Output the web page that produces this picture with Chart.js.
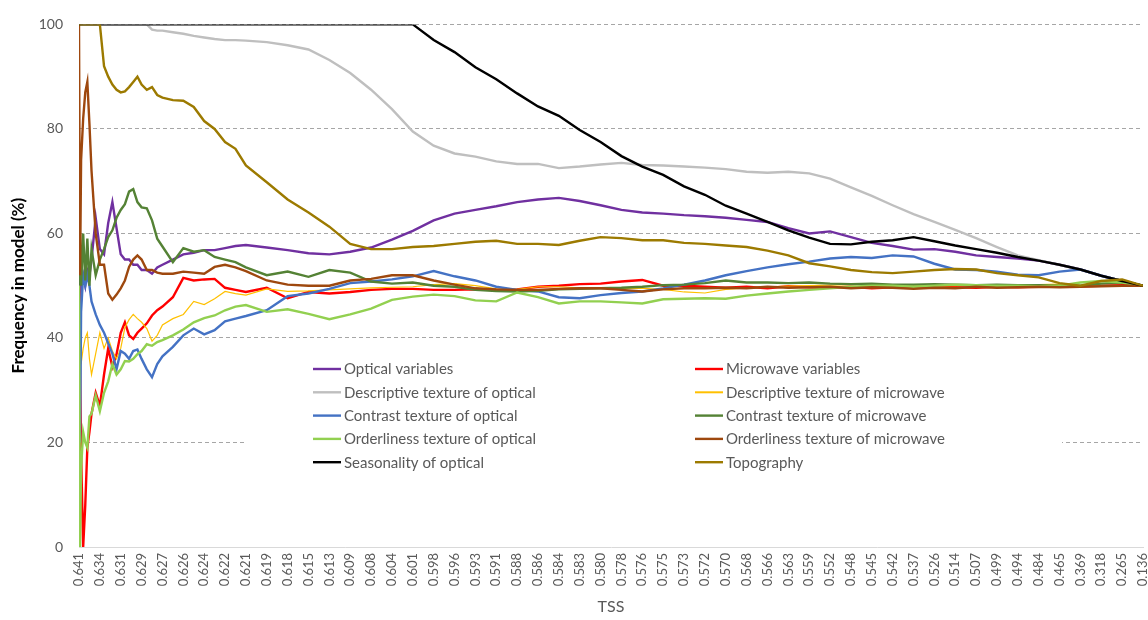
<!DOCTYPE html>
<html><head><meta charset="utf-8">
<script src="https://cdn.jsdelivr.net/npm/chart.js@4.4.0/dist/chart.umd.min.js"></script>
<style>html,body{margin:0;padding:0;background:#fff;}#wrap{width:1148px;height:620px;}</style>
</head><body><div id="wrap"><canvas id="c" width="1148" height="620"></canvas></div>
<script>
// TSS tick labels (one every rank step)
const tssLabels = ["0.641","0.634","0.631","0.629","0.627","0.626","0.624","0.622","0.621","0.619","0.618","0.615","0.613","0.609","0.608","0.604","0.601","0.598","0.596","0.593","0.591","0.588","0.586","0.584","0.583","0.580","0.578","0.576","0.575","0.573","0.572","0.570","0.568","0.566","0.563","0.559","0.552","0.548","0.545","0.542","0.537","0.526","0.514","0.507","0.499","0.494","0.484","0.465","0.369","0.318","0.265","0.136"];

// model rank positions (in tick units) at which values were read
const rankPos = [0,0.05,0.1,0.2,0.3,0.4,0.5,0.6,0.8,1,1.2,1.4,1.6,1.8,2,2.2,2.4,2.6,2.8,3,3.25,3.5,3.75,4,4.5,5,5.5,6,6.5,7,7.5,8,
 9,10,11,12,13,14,15,16,17,18,19,20,21,22,23,24,25,26,27,28,29,30,31,32,33,34,35,36,37,38,39,40,41,42,43,44,45,46,47,48,49,50,51];

const seriesNames = ["Optical variables","Microwave variables","Descriptive texture of optical","Descriptive texture of microwave","Contrast texture of optical","Contrast texture of microwave","Orderliness texture of optical","Orderliness texture of microwave","Seasonality of optical","Topography"];

const opticalVariables = [50,38,50,52,50,53,52,55,63,57,56,62,66,61,56,55,55,54,54,53,53,52.3,53.5,54,55,56,56.3,56.8,56.8,57.2,57.6,57.8,
 57.3,56.8,56.2,56,56.5,57.3,58.8,60.5,62.5,63.8,64.5,65.2,66,66.5,66.8,66.2,65.4,64.5,64,63.8,63.5,63.3,63,62.6,62.2,61,60,60.4,59.3,58.2,57.6,56.9,57,56.5,55.8,55.5,55.2,54.8,54,53.1,51.9,50.9,50];
const microwaveVariables = [50,35,18,0,8,19,22,25.5,29.5,27,33,38,34.5,36.9,41,43,40.5,39.8,41,41.8,42.8,44.3,45.3,46,47.8,51.5,51,51.2,51.3,49.6,49.2,48.8,
 49.6,47.6,48.8,48.5,48.8,49.2,49.4,49.4,49.2,49.2,49.3,49.2,49.3,49.8,50,50.3,50.4,50.8,51.1,50,50,49.8,49.6,49.8,49.5,49.9,49.7,49.6,49.8,49.5,49.7,49.6,49.8,49.7,49.6,49.8,49.7,49.8,49.9,49.9,50,50.1,50];
const descTextureOptical = [100,100,100,100,100,100,100,100,100,100,100,100,100,100,100,100,100,100,100,100,100,99,98.8,98.8,98.5,98.2,97.8,97.5,97.2,97,97,96.9,
 96.6,96,95.2,93.2,90.7,87.5,83.8,79.5,76.8,75.3,74.7,73.8,73.3,73.3,72.5,72.8,73.2,73.5,73.1,73,72.8,72.6,72.3,71.8,71.6,71.8,71.5,70.5,68.8,67.2,65.4,63.7,62.2,60.7,59.1,57.4,55.8,54.9,54,53.1,51.9,50.9,50];
const descTextureMicrowave = [50,40,35,38,40,41,36,33,37,41,38,40,37.5,36,38,42,43.5,44.5,43.7,43,41.8,39.4,40.5,42.5,43.7,44.5,47,46.4,47.5,48.9,48.5,48.2,
 49.4,48.9,49,49.2,49.4,49.6,49.7,49.8,50.2,50.4,50,49.4,49.3,49.8,49.8,49.6,49.5,49.5,49.5,49.3,48.8,48.6,49.3,49.6,49.8,49.9,50,50.1,50.2,50.3,50.2,50.1,50,50,50.1,50.2,50.1,50.2,50.3,50,50,50,50];
const contrastTextureOptical = [50,20,45,52,50,52,50,47,44.5,42.5,41,39,37,34,37.5,37,36,37.5,37.8,36,34,32.5,35,36.5,38.3,40.5,41.8,40.7,41.5,43.2,43.7,44.2,
 45.3,48,48.5,49.4,50.5,50.8,51.2,51.8,52.8,51.8,51,49.8,49.2,48.9,47.8,47.6,48.2,48.6,48.9,49.5,50.2,51,52,52.8,53.5,54.1,54.6,55.2,55.5,55.3,55.8,55.6,54.2,53.1,53,52.7,52.1,52,52.7,53.1,51.9,50.9,50];
const contrastTextureMicrowave = [50,60,50,60,51,59,50,57,52,55,57,59.3,60.6,63,64.5,65.6,68,68.5,66,65,64.8,62.5,59,57.5,54.5,57.2,56.5,56.8,55.5,55,54.5,53.5,
 52,52.7,51.7,53,52.5,50.8,50.4,50.6,50,49.8,49.2,49,48.9,49,49.3,49.4,49.5,49.6,49.8,50.1,50.2,50.5,51,50.6,50.6,50.5,50.6,50.4,50.3,50.4,50.2,50.2,50.3,50.2,50.1,50.2,50.1,50.1,50,50,50.4,50.6,50];
const orderTextureOptical = [50,0,15,22,20,19,25,25.5,29,26,29.5,31.7,35,33,34,35.6,35.5,36,36.9,37.5,38.8,38.5,39.2,39.6,40.5,41.6,43,43.8,44.3,45.3,46,46.3,
 45,45.5,44.6,43.6,44.5,45.6,47.3,47.9,48.3,48,47.2,47,48.7,47.8,46.6,47,47,46.8,46.6,47.4,47.5,47.6,47.5,48.1,48.5,48.9,49.2,49.5,49.8,50,50,49.8,50,50.2,50.1,50,50,49.9,50,50.6,50.9,50.6,50];
const orderTextureMicrowave = [100,52,74,82,87,89,81,72,60,54,54,48.5,47.3,48.3,49.5,51,53.6,55,55.8,55,53,53,52.5,52.3,52.3,52.7,52.5,52.3,53.6,54,53.5,52.8,
 51,50.2,50,50,51,51.3,52,52,51,50.2,49.5,49.3,49.2,49.2,49.4,49.5,49.5,49.2,48.9,49.3,49.5,49.5,49.6,49.5,49.8,49.6,49.7,49.8,49.5,49.7,49.6,49.4,49.6,49.5,49.8,49.6,49.7,49.8,49.7,49.8,49.9,50,50];
const seasonalityOptical = [100,100,100,100,100,100,100,100,100,100,100,100,100,100,100,100,100,100,100,100,100,100,100,100,100,100,100,100,100,100,100,100,
 100,100,100,100,100,100,100,100,97,94.7,91.8,89.5,86.8,84.3,82.5,79.8,77.5,74.8,72.8,71.2,69,67.4,65.3,63.8,62.2,60.6,59.2,58,57.9,58.4,58.7,59.3,58.5,57.7,57,56.3,55.5,54.8,54,53.1,51.9,50.9,50];
const topography = [100,100,100,100,100,100,100,100,100,100,92,90,88.5,87.5,87,87.2,88,89,90,88.5,87.5,88,86.5,86,85.5,85.4,84.2,81.5,80,77.5,76.2,73,
 69.8,66.5,64,61.3,58,57,57,57.4,57.6,58,58.4,58.6,58,58,57.8,58.6,59.3,59.1,58.7,58.7,58.2,58,57.7,57.4,56.7,55.8,54.3,53.7,53,52.6,52.4,52.7,53,53.2,53.1,52.4,52,51.6,50.5,50,50.9,51.2,50];

const seriesValues = [opticalVariables, microwaveVariables, descTextureOptical, descTextureMicrowave, contrastTextureOptical, contrastTextureMicrowave, orderTextureOptical, orderTextureMicrowave, seasonalityOptical, topography];
const seriesColors = ["#7030A0","#FF0000","#BFBFBF","#FFC000","#4472C4","#548235","#92D050","#9E480E","#000000","#9C7A00"];
const seriesWidths = [2.4,2.4,2.4,1.2,2.4,2.4,2.4,2.4,2.4,2.4];

const FONT = "Lato, 'Open Sans', sans-serif";

const datasets = seriesNames.map((name, i) => ({
  label: name,
  data: rankPos.map((x, k) => ({x: x, y: seriesValues[i][k]})),
  borderColor: seriesColors[i],
  backgroundColor: seriesColors[i],
  borderWidth: seriesWidths[i],
  pointRadius: 0,
  tension: 0,
  fill: false,
  order: seriesNames.length - i
}));

const legendPlugin = {
  id: 'manualLegend',
  afterDraw(chart) {
    const ctx = chart.ctx;
    ctx.save();
    ctx.fillStyle = '#ffffff';
    ctx.fillRect(245, 352, 817, 122);
    ctx.font = "15px " + FONT;
    ctx.textBaseline = 'middle';
    ctx.textAlign = 'left';
    const colX = [313, 695];
    const rowY0 = 369, rowH = 23.3;
    chart.data.datasets.forEach((ds, i) => {
      const col = i % 2, row = Math.floor(i / 2);
      const x = colX[col], y = rowY0 + row * rowH;
      ctx.strokeStyle = ds.borderColor;
      ctx.lineWidth = Math.max(ds.borderWidth, 2);
      ctx.beginPath();
      ctx.moveTo(x, y);
      ctx.lineTo(x + 28, y);
      ctx.stroke();
      ctx.fillStyle = '#595959';
      ctx.fillText(ds.label, x + 31, y + 0.5);
    });
    ctx.restore();
  }
};

new Chart(document.getElementById('c'), {
  type: 'line',
  data: { datasets: datasets },
  plugins: [legendPlugin],
  options: {
    responsive: false,
    devicePixelRatio: 1,
    animation: false,
    layout: { padding: { top: 21, right: 5, left: 0, bottom: 0 } },
    plugins: { legend: { display: false }, tooltip: { enabled: false } },
    scales: {
      x: {
        type: 'linear', min: 0, max: 51,
        afterFit(s) { s.height = 73; s.paddingLeft = 0; s.paddingRight = 0; },
        ticks: {
          stepSize: 1, autoSkip: false, maxRotation: 90, minRotation: 90, padding: 6,
          color: '#595959', font: { family: FONT, size: 13 },
          callback: (v) => tssLabels[v]
        },
        grid: { display: false, drawTicks: false },
        border: { display: true, color: '#D9D9D9', width: 1 },
        title: { display: true, text: 'TSS', color: '#595959', font: { family: FONT, size: 16 }, padding: { top: 0, bottom: 4 } }
      },
      y: {
        min: 0, max: 100,
        afterFit(s) { s.width = 79; },
        ticks: { stepSize: 20, padding: 16, color: '#595959', font: { family: FONT, size: 14 } },
        grid: { drawTicks: false, lineWidth: 1, color: (c) => (c.tick && c.tick.value === 0) ? 'rgba(0,0,0,0)' : '#A6A6A6' },
        border: { display: false, dash: [4, 3] },
        title: { display: true, text: 'Frequency in model (%)', color: '#000000', font: { family: FONT, size: 17, weight: 'bold' }, padding: { top: 8, bottom: 0 } }
      }
    }
  }
});
</script></body></html>
